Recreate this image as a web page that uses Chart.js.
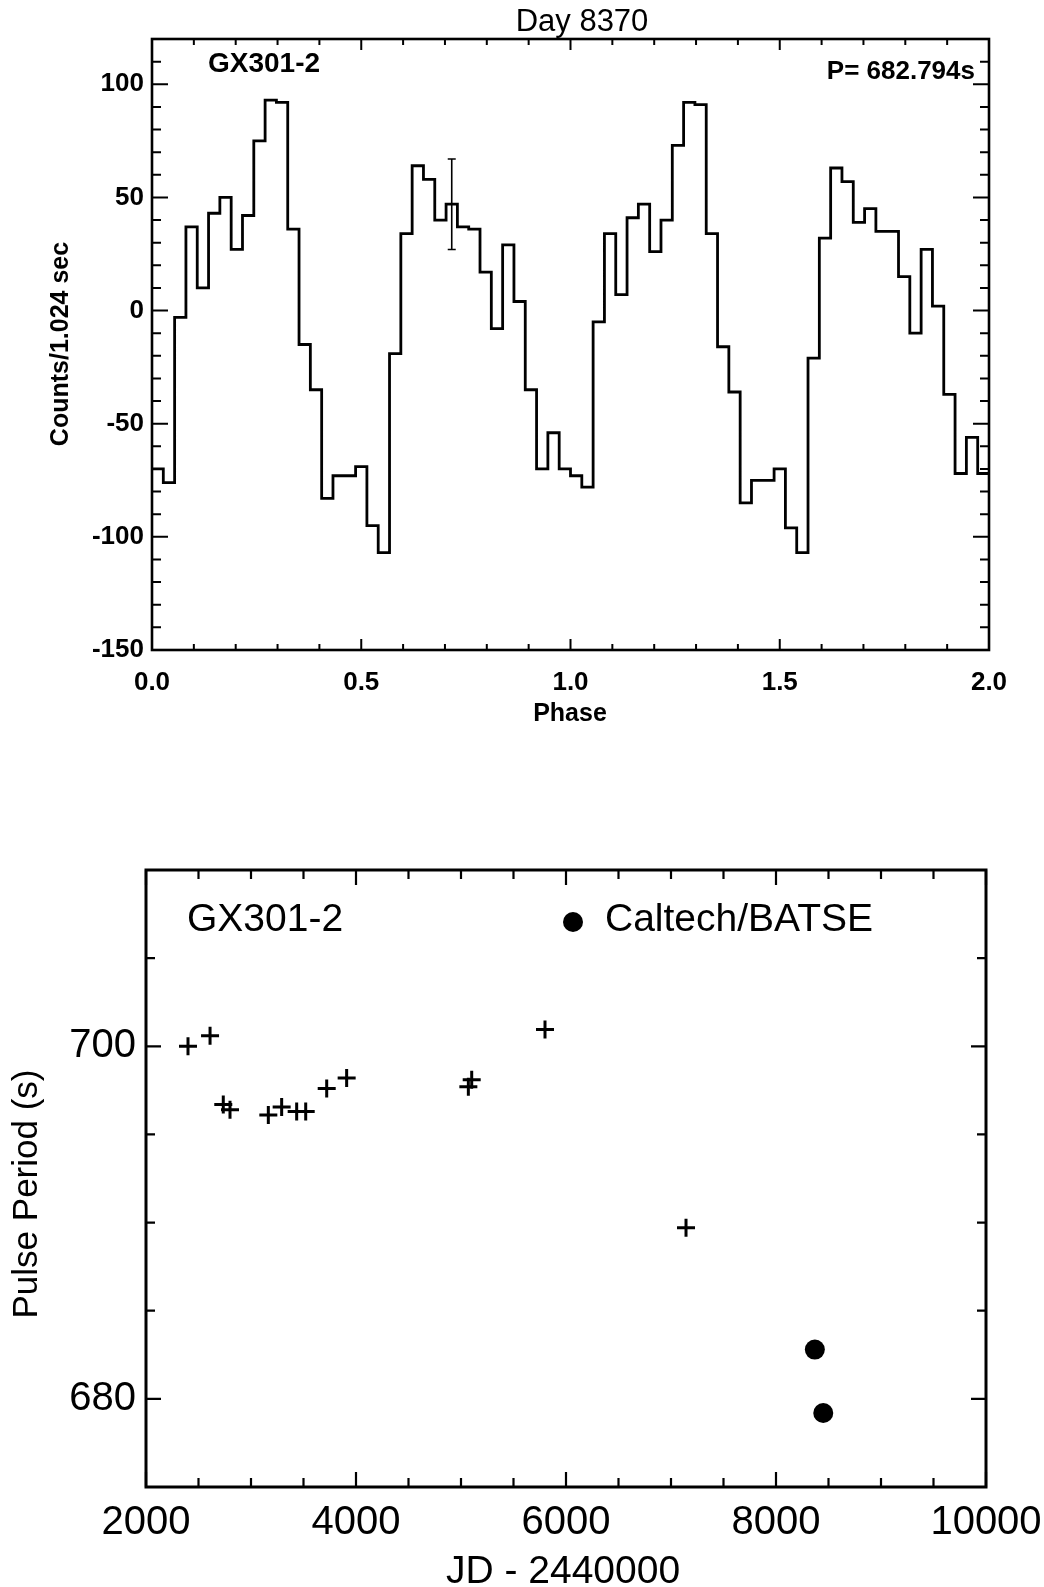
<!DOCTYPE html>
<html>
<head>
<meta charset="utf-8">
<script src="https://cdn.jsdelivr.net/npm/chart.js@4.4.1/dist/chart.umd.min.js"></script>
<style>
  html, body { margin: 0; padding: 0; background: #fff; }
  body { width: 1044px; height: 1587px; position: relative; overflow: hidden; }
  .panel { position: absolute; left: 0; width: 1100px; }
  #profileBox { top: 0; height: 740px; }
  #periodBox { top: 800px; height: 787px; }
</style>
</head>
<body>
<div class="panel" id="profileBox"><canvas id="profile"></canvas></div>
<div class="panel" id="periodBox"><canvas id="period"></canvas></div>
<script>
// --- pulse profile, Day 8370: 37 phase bins per cycle, two cycles ---
const binsPerCycle = 37;
const profileCounts = [
  -70, -76, -3, 37, 10, 43, 50, 27, 42, 75, 93, 92, 36, -15, -35, -83, -73, -73, -69,
  -95, -107, -19, 34, 64, 58, 40, 47, 37, 36, 17, -8, 29, 4, -35, -70, -54, -70,
  -73, -78, -5, 34, 7, 41, 47, 26, 40, 73, 92, 91, 34, -16, -36, -85, -75, -75, -70,
  -96, -107, -21, 32, 63, 57, 39, 45, 35, 35, 15, -10, 27, 2, -37, -72, -56, -72
];
// one representative error bar
const errBin = [26];
const errHalf = [20];

// --- pulse period history ---
const histJD = [2400, 2610, 2736, 2800, 3165, 3292, 3435, 3521, 3721, 3911, 5070, 5102, 5800, 7143];
const histPeriod = [700.0, 700.6, 696.7, 696.4, 696.1, 696.55, 696.3, 696.3, 697.6, 698.2, 697.7, 698.1, 700.95, 689.7];
const batseJD = [8370, 8450];
const batsePeriod = [682.794, 679.2];

const SANS = '"Liberation Sans", Arial, Helvetica, sans-serif';

// step outline: a point at each bin's left edge, plus the closing edge
const profilePoints = profileCounts.map((v, i) => ({ x: i / binsPerCycle, y: v }));
profilePoints.push({ x: profileCounts.length / binsPerCycle, y: profileCounts[profileCounts.length - 1] });

// frame + inward tick marks on all four sides
const framePlugin = {
  id: 'frame',
  afterDraw(chart, args, opts) {
    const { ctx, chartArea: a, scales } = chart;
    ctx.save();
    ctx.strokeStyle = '#000';
    ctx.lineWidth = opts.lineWidth;
    ctx.strokeRect(a.left, a.top, a.right - a.left, a.bottom - a.top);
    const marks = (axis, spec) => {
      const sc = scales[axis];
      const n = Math.round((sc.max - sc.min) / spec.minor);
      for (let i = 0; i <= n; i++) {
        const v = sc.min + i * spec.minor;
        const r = (v - spec.majorFrom) / spec.major;
        const len = Math.abs(r - Math.round(r)) < 1e-6 ? spec.majorLen : spec.minorLen;
        const p = sc.getPixelForValue(v);
        ctx.beginPath();
        if (axis === 'x') {
          ctx.moveTo(p, a.bottom); ctx.lineTo(p, a.bottom - len);
          ctx.moveTo(p, a.top); ctx.lineTo(p, a.top + len);
        } else {
          ctx.moveTo(a.left, p); ctx.lineTo(a.left + len, p);
          ctx.moveTo(a.right, p); ctx.lineTo(a.right - len, p);
        }
        ctx.stroke();
      }
    };
    ctx.lineWidth = opts.tickWidth;
    marks('x', opts.x);
    marks('y', opts.y);
    ctx.restore();
  }
};

// free text (titles, labels, legend) placed in canvas pixels
const textPlugin = {
  id: 'texts',
  afterDraw(chart, args, opts) {
    const ctx = chart.ctx;
    ctx.save();
    ctx.fillStyle = '#000';
    for (const t of opts.items) {
      ctx.save();
      ctx.translate(t.x, t.y);
      if (t.rotate) ctx.rotate(t.rotate);
      ctx.font = t.font;
      ctx.textAlign = t.align || 'center';
      ctx.textBaseline = 'middle';
      ctx.fillText(t.text, 0, 0);
      ctx.restore();
    }
    for (const d of (opts.dots || [])) {
      ctx.beginPath();
      ctx.arc(d.x, d.y, d.r, 0, Math.PI * 2);
      ctx.fill();
    }
    ctx.restore();
  }
};

// error bar drawn through the chart's scales
const errorBarPlugin = {
  id: 'errbar',
  afterDatasetsDraw(chart) {
    const { ctx, scales } = chart;
    ctx.save();
    ctx.strokeStyle = '#000';
    ctx.lineWidth = 1.6;
    errBin.forEach((b, i) => {
      const xv = (b + 0.5) / binsPerCycle;
      const yv = profileCounts[b];
      const px = scales.x.getPixelForValue(xv);
      const top = scales.y.getPixelForValue(yv + errHalf[i]);
      const bot = scales.y.getPixelForValue(yv - errHalf[i]);
      ctx.beginPath();
      ctx.moveTo(px, top); ctx.lineTo(px, bot);
      ctx.moveTo(px - 4, top); ctx.lineTo(px + 4, top);
      ctx.moveTo(px - 4, bot); ctx.lineTo(px + 4, bot);
      ctx.stroke();
    });
    ctx.restore();
  }
};

new Chart(document.getElementById('profile'), {
  type: 'line',
  data: {
    datasets: [{
      data: profilePoints,
      stepped: true,
      borderColor: '#000',
      borderWidth: 2.8,
      pointRadius: 0,
      fill: false
    }]
  },
  options: {
    responsive: true,
    maintainAspectRatio: false,
    animation: false,
    layout: { padding: { left: 0, top: 39, right: 111, bottom: 0 } },
    scales: {
      x: {
        type: 'linear', min: 0, max: 2,
        grid: { display: false, drawTicks: false }, border: { display: false },
        ticks: {
          stepSize: 0.5, padding: 17, color: '#000', autoSkip: false, maxRotation: 0,
          font: { family: SANS, size: 26, weight: 'bold' },
          callback: v => v.toFixed(1)
        },
        afterFit: s => { s.height = 90; }
      },
      y: {
        type: 'linear', min: -150, max: 120,
        grid: { display: false, drawTicks: false }, border: { display: false },
        ticks: {
          stepSize: 50, includeBounds: false, padding: 8, color: '#000', autoSkip: false,
          font: { family: SANS, size: 26, weight: 'bold' }
        },
        afterFit: s => { s.width = 152; }
      }
    },
    plugins: {
      legend: { display: false },
      tooltip: { enabled: false },
      frame: {
        lineWidth: 2.6, tickWidth: 2,
        x: { minor: 0.1, major: 0.5, majorFrom: 0, majorLen: 11, minorLen: 6 },
        y: { minor: 10, major: 50, majorFrom: -150, majorLen: 16, minorLen: 9 }
      },
      texts: {
        items: [
          { text: 'Day 8370', x: 582, y: 22, font: '31px ' + SANS },
          { text: 'GX301-2', x: 208, y: 64, align: 'left', font: 'bold 28px ' + SANS },
          { text: 'P= 682.794s', x: 975, y: 72, align: 'right', font: 'bold 26px ' + SANS },
          { text: 'Counts/1.024 sec', x: 61, y: 344, rotate: -Math.PI / 2, font: 'bold 25px ' + SANS },
          { text: 'Phase', x: 570, y: 714, font: 'bold 25px ' + SANS }
        ]
      }
    }
  },
  plugins: [framePlugin, textPlugin, errorBarPlugin]
});

new Chart(document.getElementById('period'), {
  type: 'scatter',
  data: {
    datasets: [
      {
        data: histJD.map((x, i) => ({ x, y: histPeriod[i] })),
        pointStyle: 'cross',
        pointRadius: 9,
        borderColor: '#000',
        borderWidth: 3
      },
      {
        data: batseJD.map((x, i) => ({ x, y: batsePeriod[i] })),
        pointStyle: 'circle',
        pointRadius: 10,
        backgroundColor: '#000',
        borderWidth: 0
      }
    ]
  },
  options: {
    responsive: true,
    maintainAspectRatio: false,
    animation: false,
    layout: { padding: { left: 0, top: 70, right: 114, bottom: 0 } },
    scales: {
      x: {
        type: 'linear', min: 2000, max: 10000,
        grid: { display: false, drawTicks: false }, border: { display: false },
        ticks: {
          stepSize: 2000, padding: 12, color: '#000', autoSkip: false, maxRotation: 0,
          font: { family: SANS, size: 40 },
          callback: v => String(v)
        },
        afterFit: s => { s.height = 100; }
      },
      y: {
        type: 'linear', min: 675, max: 710,
        grid: { display: false, drawTicks: false }, border: { display: false },
        ticks: {
          stepSize: 20, includeBounds: false, padding: 10, color: '#000', autoSkip: false,
          font: { family: SANS, size: 40 },
          callback: v => String(v)
        },
        afterFit: s => { s.width = 146; }
      }
    },
    plugins: {
      legend: { display: false },
      tooltip: { enabled: false },
      frame: {
        lineWidth: 3, tickWidth: 2.2,
        x: { minor: 500, major: 2000, majorFrom: 2000, majorLen: 15, minorLen: 9 },
        y: { minor: 5, major: 20, majorFrom: 660, majorLen: 15, minorLen: 9 }
      },
      texts: {
        items: [
          { text: 'GX301-2', x: 187, y: 120, align: 'left', font: '39px ' + SANS },
          { text: 'Caltech/BATSE', x: 605, y: 120, align: 'left', font: '39px ' + SANS },
          { text: 'Pulse Period (s)', x: 27, y: 394, rotate: -Math.PI / 2, font: '35px ' + SANS },
          { text: 'JD - 2440000', x: 563, y: 772, font: '39px ' + SANS }
        ],
        dots: [{ x: 573, y: 122, r: 10 }]
      }
    }
  },
  plugins: [framePlugin, textPlugin]
});
</script>
</body>
</html>
